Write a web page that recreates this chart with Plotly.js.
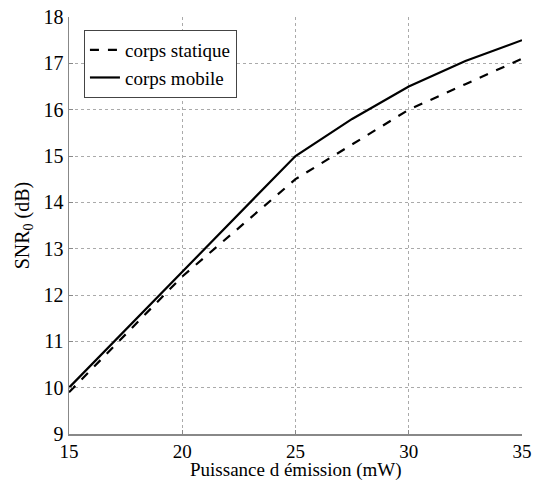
<!DOCTYPE html>
<html>
<head>
<meta charset="utf-8">
<script src="https://cdn.plot.ly/plotly-3.0.1.min.js"></script>
<style>html,body{margin:0;padding:0;background:#fff;}#chart{width:534px;height:480px;}</style>
</head>
<body>
<div id="chart"></div>
<script>
const puissance = [15, 17.5, 20, 22.5, 25, 27.5, 30, 32.5, 35];
const snrStatique = [9.9, 11.15, 12.4, 13.45, 14.5, 15.25, 16.0, 16.55, 17.1];
const snrMobile = [10.0, 11.25, 12.5, 13.75, 15.0, 15.8, 16.5, 17.05, 17.5];
const xTicks = [15, 20, 25, 30, 35];
const yTicks = [9, 10, 11, 12, 13, 14, 15, 16, 17, 18];
const xTitle = 'Puissance d émission (mW)';
const yTitle = 'SNR<sub>0</sub> (dB)';

const font = 'Liberation Serif';
const traces = [
  {x: puissance, y: snrStatique, mode: 'lines', name: 'corps statique',
   line: {color: '#000', width: 2.2, dash: 'dash'}},
  {x: puissance, y: snrMobile, mode: 'lines', name: 'corps mobile',
   line: {color: '#000', width: 2.2}}
];
const layout = {
  width: 534, height: 480,
  margin: {l: 69, r: 12, t: 17, b: 46, pad: 0},
  paper_bgcolor: '#fff', plot_bgcolor: '#fff',
  font: {family: font, size: 17, color: '#000'},
  showlegend: true,
  legend: {x: 0.033, y: 0.969, xanchor: 'left', yanchor: 'top',
    bgcolor: '#fff', bordercolor: '#444', borderwidth: 1,
    font: {family: font, size: 19, color: '#000'}, itemwidth: 30, tracegroupgap: 0},
  xaxis: {range: [15, 35], tickvals: xTicks, ticktext: xTicks.map(String),
    showgrid: true, gridcolor: '#aaa', griddash: 'dot', gridwidth: 1,
    zeroline: false, showline: true, linecolor: '#888', linewidth: 1.5,
    ticks: 'inside', ticklen: 4, tickcolor: '#888',
    tickfont: {family: font, size: 19}, automargin: false},
  yaxis: {range: [9, 18], tickvals: yTicks, ticktext: yTicks.map(String),
    showgrid: true, gridcolor: '#aaa', griddash: 'dot', gridwidth: 1,
    zeroline: false, showline: true, linecolor: '#888', linewidth: 1.5,
    ticks: 'inside', ticklen: 4, tickcolor: '#888',
    tickfont: {family: font, size: 20}, automargin: false,
    title: {text: yTitle, font: {family: font, size: 20}, standoff: 8}},
  annotations: [{text: xTitle, xref: 'paper', yref: 'paper', x: 0.5, y: 0,
    xanchor: 'center', yanchor: 'top', yshift: -23, showarrow: false,
    font: {family: font, size: 19, color: '#000'}}]
};
Plotly.newPlot('chart', traces, layout, {displayModeBar: false, staticPlot: true});
</script>
</body>
</html>
